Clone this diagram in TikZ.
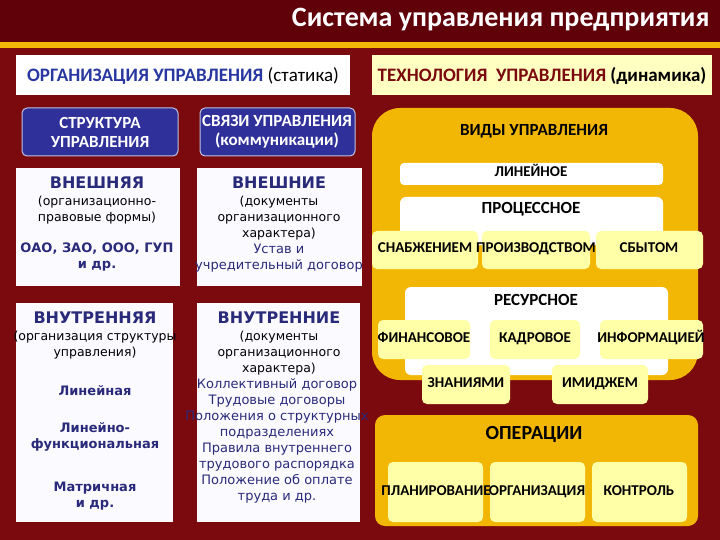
\documentclass[tikz,border=0pt]{standalone}
\usepackage{fontspec}
\setmainfont{Carlito}
\newfontfamily\dv{DejaVu Sans}
\definecolor{bg}{HTML}{7A0A0E}
\definecolor{bgd}{HTML}{600008}
\definecolor{gold}{HTML}{F2B705}
\definecolor{pale}{HTML}{FFFFA8}
\definecolor{btn}{HTML}{30309A}
\definecolor{navy}{HTML}{2A2A7A}
\definecolor{bann}{HTML}{2838A0}
\definecolor{lav}{HTML}{FBFBFF}
\begin{document}
\begin{tikzpicture}[x=1pt,y=-1pt,
  card/.style={fill=lav,draw=none},
  bluebtn/.style={fill=btn,draw=white!70!btn,line width=1pt,rounded corners=5pt},
  wbox/.style={fill=white,rounded corners=6pt},
  pbox/.style={fill=pale,rounded corners=5pt},
  lt/.style={font=\dv\fontsize{12.5}{16}\selectfont,text=black,align=center},
  ltb/.style={font=\dv\bfseries\fontsize{13}{16}\selectfont,text=navy,align=center},
  lh/.style={font=\dv\bfseries\fontsize{16}{18}\selectfont,text=navy},
  rt/.style={font=\bfseries\fontsize{17}{19}\selectfont,text=black,text height=1.5ex,text depth=.3ex},
  rts/.style={font=\bfseries\fontsize{15}{17}\selectfont,text=black,text height=1.5ex,text depth=.3ex}]
\useasboundingbox (0,0) rectangle (720,540);
\clip (0,0) rectangle (720,540);
\fill[bg] (0,0) rectangle (720,540);
\fill[bgd] (0,0) rectangle (720,42);
\fill[gold] (0,42) rectangle (720,48);
\node[anchor=east,text=white,font=\bfseries\fontsize{28}{30}\selectfont] (title) at (713,20) {Система управления предприятия};
% banners
\fill[white] (16,55) rectangle (350,95);
\fill[pale!70!white] (372,55) rectangle (712,95);
\node[font=\bfseries\fontsize{19}{21}\selectfont,inner sep=0] (org) at (183,76) {\textcolor{bann}{ОРГАНИЗАЦИЯ УПРАВЛЕНИЯ} \fontseries{m}\selectfont(статика)};
\node[font=\bfseries\fontsize{19}{21}\selectfont,inner sep=0] (tech) at (542,76) {\textcolor{bg}{ТЕХНОЛОГИЯ\ \ УПРАВЛЕНИЯ} (динамика)};
% blue buttons
\draw[bluebtn] (22,108) rectangle (178,156);
\node[text=white,font=\bfseries\fontsize{17}{19}\selectfont,align=center] (str) at (100,132) {СТРУКТУРА\\УПРАВЛЕНИЯ};
\draw[bluebtn] (200,108) rectangle (355,156);
\node[text=white,font=\bfseries\fontsize{17}{19}\selectfont,align=center] (sv) at (277,132) {СВЯЗИ УПРАВЛЕНИЯ\\(коммуникации)};
% left cards
\fill[card] (16,168) rectangle (180,286);
\fill[card] (197,168) rectangle (362,286);
\fill[card] (16,303) rectangle (173,522);
\fill[card] (197,303) rectangle (360,522);
\node[lh] (c1h) at (97,183) {ВНЕШНЯЯ};
\node[lt,anchor=north] (c1t) at (97,192) {(организационно-\\правовые формы)};
\node[ltb,anchor=north] (c1b) at (97,239) {ОАО, ЗАО, ООО, ГУП\\и др.};
\node[lh] (c2h) at (279,183) {ВНЕШНИЕ};
\node[lt,anchor=north] (c2t) at (279,192) {(документы\\организационного\\характера)};
\node[ltb,anchor=north,font=\dv\fontsize{13}{16}\selectfont] (c2b) at (279,240) {Устав и\\учредительный договор};
\node[lh] (c3h) at (95,318) {ВНУТРЕННЯЯ};
\node[lt,anchor=north] (c3t) at (95,327) {(организация структуры\\управления)};
\node[ltb] (c3a) at (95,391) {Линейная};
\node[ltb] (c3b) at (95,437) {Линейно-\\функциональная};
\node[ltb] (c3c) at (95,496) {Матричная\\и др.};
\node[lh] (c4h) at (279,318) {ВНУТРЕННИЕ};
\node[lt,anchor=north] (c4t) at (279,327) {(документы\\организационного\\характера)};
\node[ltb,anchor=north,font=\dv\fontsize{13}{16}\selectfont] (c4b) at (277,375) {Коллективный договор\\Трудовые договоры\\Положения о структурных\\подразделениях\\Правила внутреннего\\трудового распорядка\\Положение об оплате\\труда и др.};
% right
\fill[gold,rounded corners=28pt] (372,108) rectangle (698,380);
\node[rt] (vid) at (534,133) {ВИДЫ УПРАВЛЕНИЯ};
\fill[white,rounded corners=4pt] (400,163) rectangle (663,185);
\node[rts] (lin) at (531,174) {ЛИНЕЙНОЕ};
\fill[wbox] (400,197) rectangle (663,245);
\node[rt] (proc) at (531,211) {ПРОЦЕССНОЕ};
\fill[pbox] (372,231) rectangle (478,269);
\fill[pbox] (482,231) rectangle (590,269);
\fill[pbox] (596,231) rectangle (703,269);
\node[rts] (p1) at (425,250) {СНАБЖЕНИЕМ};
\node[rts] (p2) at (536,250) {ПРОИЗВОДСТВОМ};
\node[rts] (p3) at (649,250) {СБЫТОМ};
\fill[wbox] (405,287) rectangle (668,375);
\node[rt] (res) at (536,303) {РЕСУРСНОЕ};
\fill[pbox] (378,320) rectangle (470,359);
\fill[pbox] (490,320) rectangle (580,359);
\fill[pbox] (600,320) rectangle (703,359);
\fill[pbox] (422,365) rectangle (510,404);
\fill[pbox] (552,365) rectangle (648,404);
\node[rts] (r1) at (424,340) {ФИНАНСОВОЕ};
\node[rts] (r2) at (535,340) {КАДРОВОЕ};
\node[rts] (r3) at (651,340) {ИНФОРМАЦИЕЙ};
\node[rts] (r4) at (466,385) {ЗНАНИЯМИ};
\node[rts] (r5) at (600,385) {ИМИДЖЕМ};
\fill[gold,rounded corners=10pt] (375,415) rectangle (698,526);
\node[font=\bfseries\fontsize{20}{22}\selectfont] (op) at (534,434) {ОПЕРАЦИИ};
\fill[pbox] (388,462) rectangle (483,522);
\fill[pbox] (490,462) rectangle (585,522);
\fill[pbox] (592,462) rectangle (687,522);
\node[rts] (o1) at (436,493) {ПЛАНИРОВАНИЕ};
\node[rts] (o2) at (537,493) {ОРГАНИЗАЦИЯ};
\node[rts] (o3) at (639,493) {КОНТРОЛЬ};
\end{tikzpicture}
\end{document}
